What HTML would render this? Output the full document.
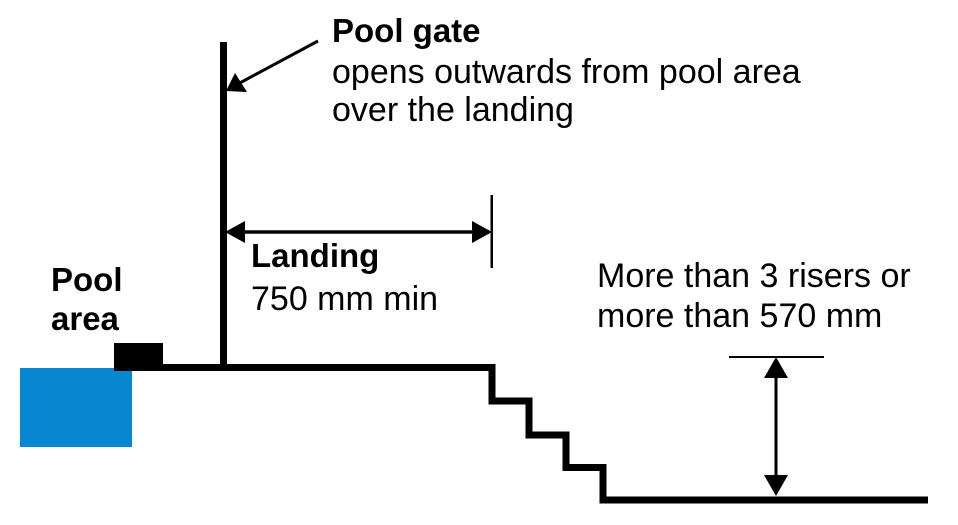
<!DOCTYPE html>
<html>
<head>
<meta charset="utf-8">
<style>
  html, body { margin: 0; padding: 0; background: #fff; }
  body { width: 958px; height: 525px; overflow: hidden; }
  svg { display: block; }
  text { font-family: "Liberation Sans", Arial, sans-serif; fill: #000; }
  .b { font-weight: bold; font-size: 33px; }
  .r { font-size: 34px; }
</style>
</head>
<body>
<svg width="958" height="525" viewBox="0 0 958 525" xmlns="http://www.w3.org/2000/svg">
  <rect x="0" y="0" width="958" height="525" fill="#fff"/>

  <!-- Pool water -->
  <rect x="20" y="368" width="112" height="79" fill="#0787d0"/>
  <!-- coping block -->
  <rect x="114" y="343" width="49" height="27" fill="#000"/>

  <!-- landing + steps + ground -->
  <path d="M 114 367.5 H 492 V 401 H 529 V 435 H 566 V 467.5 H 603 V 500 H 928"
        fill="none" stroke="#000" stroke-width="7" stroke-linejoin="miter"/>

  <!-- gate pole -->
  <rect x="220" y="42" width="7" height="326" fill="#000"/>

  <!-- pool gate leader -->
  <line x1="318" y1="41" x2="236" y2="85" stroke="#000" stroke-width="3"/>
  <polygon points="226,91 235,73 247,92" fill="#000"/>

  <!-- landing dimension -->
  <line x1="240" y1="232" x2="476" y2="232" stroke="#000" stroke-width="3.5"/>
  <polygon points="225,232 245,221 245,243" fill="#000"/>
  <polygon points="492,232 472,221 472,243" fill="#000"/>
  <rect x="490.5" y="195" width="2.5" height="73" fill="#000"/>

  <!-- height dimension -->
  <rect x="729" y="356" width="95" height="2" fill="#000"/>
  <line x1="776" y1="370" x2="776" y2="485" stroke="#000" stroke-width="3"/>
  <polygon points="776,357 764,378 788,378" fill="#000"/>
  <polygon points="776,496 764,475 788,475" fill="#000"/>

  <!-- texts -->
  <text class="b" x="332" y="42">Pool gate</text>
  <text class="r" x="332" y="83">opens outwards from pool area</text>
  <text class="r" x="332" y="121">over the landing</text>

  <text class="b" x="251" y="267">Landing</text>
  <text class="r" x="251" y="310">750 mm min</text>

  <text class="b" x="51" y="291">Pool</text>
  <text class="b" x="51" y="330">area</text>

  <text class="r" x="597" y="287">More than 3 risers or</text>
  <text class="r" x="597" y="327">more than 570 mm</text>
</svg>
</body>
</html>
